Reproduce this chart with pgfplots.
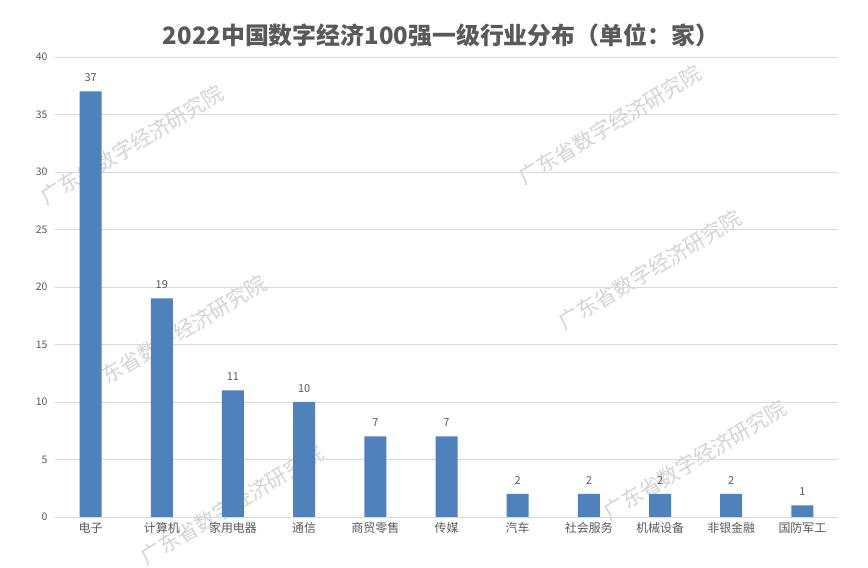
\documentclass[border=0pt]{standalone}
\usepackage{pgfplots}
\pgfplotsset{compat=1.18}
\usepackage{fontspec}
\setmainfont{Noto Sans CJK SC}
\definecolor{barblue}{HTML}{4F81BD}
\definecolor{txtgray}{HTML}{595959}
\definecolor{gridgray}{HTML}{D9D9D9}
\definecolor{wmgray}{HTML}{D4D4D4}
\begin{document}
\begin{tikzpicture}[x=1bp,y=1bp]
\path[fill=white] (0,0) rectangle (868,568);
\foreach \px/\py in {132/423, 610/443, 175/233, 650/298, 232/63, 695/108}{
  \node[rotate=31, text=wmgray, font=\fontsize{21}{24}\selectfont, inner sep=0pt] at (\px,\py) {广东省数字经济研究院};
}
\node[text=txtgray, font=\fontsize{24}{29}\selectfont\bfseries] at (441,533) {2022中国数字经济100强一级行业分布（单位：家）};
\begin{axis}[
  at={(55bp,51bp)}, anchor=south west,
  scale only axis, width=783bp, height=460bp,
  xmin=-0.5, xmax=10.5, ymin=0, ymax=40,
  ytick={0,5,...,40},
  xtick={0,...,10},
  xticklabels={电子,计算机,家用电器,通信,商贸零售,传媒,汽车,社会服务,机械设备,非银金融,国防军工},
  ymajorgrids, grid style={gridgray, line width=0.8pt},
  axis line style={draw=none},
  major tick length=0pt,
  tick label style={text=txtgray},
  yticklabel style={font=\fontsize{10.5}{12}\selectfont},
  xticklabel style={font=\fontsize{12}{14}\selectfont},
  /pgf/number format/assume math mode=true,
  yticklabel shift=4pt,
  xticklabel shift=2pt,
  ybar, bar width=22bp,
  nodes near coords,
  nodes near coords style={text=txtgray, font=\fontsize{11}{13}\selectfont, yshift=6pt},
  clip=false,
]
\addplot[fill=barblue, draw=none] coordinates {(0,37) (1,19) (2,11) (3,10) (4,7) (5,7) (6,2) (7,2) (8,2) (9,2) (10,1)};
\end{axis}
\end{tikzpicture}
\end{document}
